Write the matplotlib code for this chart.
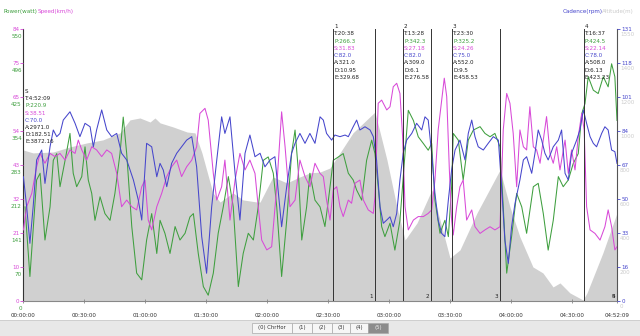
import matplotlib
matplotlib.use('Agg')
import matplotlib.pyplot as plt
import numpy as np
from matplotlib.transforms import blended_transform_factory, ScaledTranslation
from matplotlib.patches import Rectangle

# ---------------- data (time in minutes) ----------------
total_min = 292.15  # 4:52:09

alt_t = [0, 4.9, 14.8, 23.1, 31.5, 39.3, 47.7, 52.6, 57.5, 62.5, 64.9, 67.4, 73.8, 80.7, 84.6, 88.0,
         93.4, 96.9, 103.3, 108.2, 115.1, 116.6, 122.9, 129.8, 136.2, 141.1, 146.1, 151.0, 155.9,
         162.3, 173.1, 179.0, 183.9, 187.9, 193.8, 201.1, 205.1, 210.0, 214.9, 223.3, 234.6, 239.5,
         244.4, 250.8, 255.7, 260.7, 264.1, 269.0, 275.4, 277.4, 285.2, 292.15]
alt_v = [861, 844, 849, 878, 901, 918, 958, 1032, 1043, 1020, 1043, 1015, 992, 963, 958, 844,
         616, 564, 616, 576, 564, 564, 707, 673, 707, 730, 735, 758, 844,
         958, 1077, 804, 536, 348, 445, 633, 462, 245, 291, 502, 747, 536,
         365, 194, 160, 80, 103, 46, 6, 46, 274, 502]

pow_t = [1.0, 3.4, 6.7, 8.4, 10.8, 13.3, 14.9, 16.6, 18.2, 20.7, 23.1, 24.7, 26.4, 28.9, 30.5,
         32.1, 33.8, 35.4, 37.9, 40.3, 42.8, 45.2, 47.7, 49.3, 51.0, 53.5, 55.9, 58.4, 60.8, 63.3,
         65.8, 67.4, 69.8, 72.3, 74.8, 77.2, 79.7, 82.1, 83.8, 86.2, 88.7, 91.1, 93.6, 96.0, 98.5,
         101.0, 103.4, 105.9, 108.3, 110.8, 113.3, 115.7, 118.2, 120.6, 123.1, 124.8, 127.2, 129.7,
         132.1, 133.8, 135.4, 137.1, 139.5, 141.1, 143.6,
         146.1, 148.5, 150.2, 152.6, 155.1, 157.5, 160.0, 162.4, 164.1, 166.6, 169.0, 171.5, 173.1,
         174.7, 176.4, 178.0, 180.5, 182.9, 185.4, 187.9, 189.5, 192.0, 194.4, 196.9, 199.3, 201.0,
         202.6, 205.1, 207.5, 209.2, 210.8, 211.6, 214.1, 216.5, 219.0, 221.5, 224.8, 227.2, 229.7,
         232.1, 234.6, 236.2, 237.9, 240.3, 242.8, 245.3, 247.7, 251.0, 253.4, 255.9, 258.3, 260.8,
         263.3, 265.7, 268.2, 270.6, 273.1, 274.8, 276.4, 278.0, 280.5, 282.9, 285.4, 287.8, 289.5,
         291.1, 292.15]
pow_v = [196, 51, 252, 266, 127, 196, 293, 307, 238, 293, 349, 266, 238, 259, 321,
         252, 224, 168, 217, 182, 168, 224, 307, 383, 307, 155, 58, 44, 127, 182,
         99, 168, 141, 99, 155, 127, 141, 175, 182, 99, 30, 12, 58, 141, 196,
         259, 196, 30, 99, 141, 127, 196, 293, 300, 266, 196, 51, 168,
         307, 356, 272, 127, 196, 266, 210,
         196, 155, 210, 293, 300, 307, 266, 252, 231, 210, 293, 335, 307,
         238, 155, 134, 162, 106, 168, 307, 397, 376, 342, 328, 314, 328,
         210, 141, 168, 134, 238, 349, 335, 252, 335, 356, 363, 349, 342,
         349, 321, 196, 58, 134, 224, 196, 141, 238, 245, 182, 106, 168,
         259, 238, 252, 286, 307, 390, 411, 467, 439, 432, 467, 446, 494,
         467, 376]

spd_t = [0.2, 1.8, 4.3, 6.7, 8.4, 10.8, 13.3, 15.7, 18.2, 20.7, 23.1, 25.6, 27.2, 28.9, 31.3,
         33.8, 36.2, 38.7, 41.2, 43.6, 46.1, 48.5, 51.0, 53.5, 55.9, 58.4, 60.0, 61.6, 63.3, 65.8,
         68.2, 70.7, 73.1, 75.6, 78.0, 80.5, 83.0, 85.4, 87.0, 89.5, 91.1, 93.6, 95.3, 97.7, 99.3,
         101.8, 104.3, 106.7, 109.2, 111.6, 114.1, 115.7, 117.4, 119.9, 122.3, 124.8, 127.2, 128.9,
         131.3, 133.8, 136.2, 138.7, 141.1, 143.6,
         146.1, 147.7, 149.3, 151.0, 152.6, 154.3, 155.9, 157.5, 160.0, 161.6, 163.3, 165.7, 167.4,
         169.8, 172.3, 173.1, 174.7, 176.4, 178.9, 180.5, 182.1, 183.8, 185.4, 186.7, 187.9, 189.5,
         192.0, 194.4, 196.9, 199.3, 201.0, 202.6, 204.2, 205.9, 207.2, 208.4, 209.7, 210.8, 211.6,
         213.3, 214.9, 216.5, 218.2, 220.7, 222.3, 224.8, 227.2, 229.7, 232.1, 234.6, 236.2, 237.9,
         239.5, 241.1, 242.8, 244.4, 246.1, 247.7, 249.3, 251.0, 252.6, 254.3, 255.9, 257.5, 259.2,
         260.8, 262.5, 264.1, 266.6, 268.2, 269.8, 271.5, 273.1, 274.8, 276.0, 277.2, 278.9, 281.3,
         283.8, 286.2, 287.8, 289.5, 291.1, 292.15]
spd_v = [22.4, 29.7, 33.9, 42.3, 46.5, 43.4, 46.5, 45.5, 46.5, 44.4, 47.6, 46.5, 50.7, 47.6, 44.4,
         48.6, 47.6, 45.5, 47.6, 46.5, 40.2, 29.7, 31.8, 29.7, 28.7, 36.0, 38.1, 25.5, 22.4, 29.7,
         33.9, 39.2, 42.3, 44.4, 39.2, 42.3, 44.4, 48.6, 59.1, 60.7, 57.0, 40.2, 31.8, 36.0, 44.4,
         25.5, 38.1, 46.5, 41.3, 44.4, 40.2, 29.7, 19.2, 16.1, 17.1, 36.0, 59.6, 48.6,
         29.7, 31.8, 44.4, 39.2, 36.0, 43.4,
         40.2, 39.2, 31.8, 25.5, 35.0, 36.0, 29.7, 26.6, 31.8, 30.8, 37.1, 38.1, 31.8,
         28.7, 27.6, 32.9, 62.3, 63.3, 60.2, 61.2, 67.5, 68.6, 65.4, 51.8, 29.7, 22.4,
         25.5, 26.6, 26.6, 27.6, 28.7, 38.1, 53.9, 63.3, 70.2, 64.4, 41.3, 25.5, 20.8,
         29.7, 36.0, 38.1, 25.5, 28.7, 23.4, 21.3, 22.4, 23.4, 22.4, 23.4, 53.9, 65.4,
         62.3, 52.8, 36.0, 53.9, 48.6, 47.6, 61.2, 48.6, 47.6, 43.4, 50.7, 58.1, 46.5,
         43.4, 48.6, 41.3, 50.7, 40.2, 47.6, 41.3, 51.8, 59.1, 53.9, 29.7, 22.4, 21.3,
         19.2, 23.4, 28.7, 23.4, 16.1, 17.1]

cad_t = [0.2, 1.8, 3.4, 5.0, 6.7, 9.2, 10.8, 13.3, 14.9, 16.6, 18.2, 19.8, 23.1, 25.6, 28.0,
         30.5, 33.0, 34.6, 36.2, 38.7, 41.2, 43.6, 46.1, 48.5, 51.0, 54.3, 56.7, 58.4, 60.8, 63.3,
         65.8, 67.4, 69.0, 70.7, 73.1, 75.6, 78.0, 80.5, 83.0, 85.4, 87.9, 90.3, 92.8, 95.3, 97.7,
         99.3, 101.8, 104.3, 106.7, 109.2, 111.6, 114.1, 116.6, 119.0, 121.5, 123.9, 125.6, 127.2,
         129.7, 132.1, 133.8, 136.2, 138.7, 141.1, 143.6,
         146.1, 147.7, 149.3, 151.8, 153.4, 155.9, 158.4, 160.0, 162.4, 164.1, 165.7, 168.2, 170.7,
         172.3, 173.9, 175.6, 177.2, 178.9, 180.5, 182.1, 183.8, 185.4, 187.0, 188.7, 191.2, 193.6,
         196.1, 197.7, 199.3, 201.0, 202.6, 204.2, 205.9, 207.5, 209.2, 210.8, 212.5, 214.9, 217.4,
         219.0, 220.7, 222.3, 223.9, 226.4, 228.8, 231.3, 233.8, 235.4, 237.0, 238.7, 240.3, 242.0,
         244.4, 246.1, 247.7, 250.2, 251.8, 253.4, 255.1, 256.7, 258.3, 260.8, 263.3, 264.9, 266.6,
         268.2, 269.8, 272.3, 273.9, 275.6, 277.2, 278.9, 280.5, 282.1, 284.6, 286.2, 287.8, 289.5,
         291.1, 292.15]
cad_v = [61.4, 46.6, 28.5, 46.6, 69.7, 74.6, 58.1, 76.2, 84.5, 81.2, 82.8, 89.4, 93.5, 87.8, 81.2,
         87.8, 86.1, 76.2, 84.5, 94.4, 84.5, 81.2, 82.8, 73.0, 69.7, 59.8, 49.9, 40.0, 77.9, 76.2,
         61.4, 68.0, 64.7, 56.5, 68.0, 73.0, 76.2, 79.5, 81.2, 66.3, 31.8, 13.7, 46.6, 69.7, 91.0,
         82.8, 91.0, 63.1, 40.0, 73.0, 82.0, 71.3, 73.0, 66.3, 69.7, 71.3, 53.2, 36.7,
         56.5, 73.0, 77.9, 82.8, 77.9, 82.8, 77.9,
         91.0, 89.4, 82.8, 79.5, 82.0, 81.2, 82.0, 81.2, 86.1, 89.4, 84.5, 86.1, 84.5,
         81.2, 69.7, 46.6, 38.4, 40.0, 41.6, 36.7, 43.3, 59.8, 73.0, 79.5, 82.8, 87.8,
         84.5, 91.0, 89.4, 73.0, 53.2, 40.0, 33.4, 31.8, 49.9, 64.7, 74.6, 79.5, 69.7,
         82.8, 89.4, 81.2, 76.2, 74.6, 77.9, 81.2, 79.5, 56.5, 30.1, 18.6, 36.7, 48.3,
         59.8, 69.7, 71.3, 63.1, 73.0, 84.5, 79.5, 73.0, 69.7, 76.2, 79.5, 84.5, 63.1,
         59.8, 73.0, 79.5, 84.5, 94.4, 87.8, 81.2, 77.9, 76.2, 82.8, 86.1, 84.5, 74.6,
         73.8, 68.0]

# axis ranges and tick labels
pow_max, spd_max, cad_max, alt_max = 566.4, 85.7, 134.4, 1550
speed_labels = ['0', '10', '21', '32', '43', '54', '65', '75', '84']
power_labels = ['0', '70', '141', '212', '283', '354', '425', '496', '550']
cad_labels = ['0', '16', '33', '50', '67', '84', '101', '118', '131']
alt_labels = ['0', '200', '400', '600', '800', '1000', '1200', '1400', '1550']
x_ticks = [0, 30, 60, 90, 120, 150, 180, 210, 240, 270, 292.15]
x_labels = ['00:00:00', '00:30:00', '01:00:00', '01:30:00', '02:00:00', '02:30:00',
            '03:00:00', '03:30:00', '04:00:00', '04:30:00', '04:52:09']

# laps
lap_names = ['1', '2', '3', '4']
lap_start = [152.5, 186.9, 211.0, 275.9]
lap_end = [173.1, 200.7, 234.6, 292.15]
lap_T = ['20:38', '13:28', '23:30', '16:37']
lap_P = ['266.3', '342.3', '325.2', '424.5']
lap_S = ['31.83', '27.18', '24.26', '22.14']
lap_C = ['82.0', '82.0', '75.0', '78.0']
lap_A = ['321.0', '309.0', '552.0', '508.0']
lap_D = ['10.95', '6.1', '9.5', '6.13']
lap_E = ['329.68', '276.58', '458.53', '423.23']
summary = ['S', 'T:4:52:09', 'P:220.9', 'S:38.51', 'C:70.0', 'A:2971.0', 'D:182.51', 'E:3872.16']

tabs = ['(0) ChrHor', '(1)', '(2)', '(3)', '(4)', '(5)']

# ---------------- styling ----------------
GREEN = '#3f9f3f'
MAG = '#d84ad8'
BLUE = '#4646cc'
ALT = '#d0d0d0'
ALTTXT = '#cccccc'
TXT = '#222222'
FS = 4.1
plt.rcParams['font.family'] = ['DejaVu Sans']

W_PX, H_PX = 640, 336
fig = plt.figure(figsize=(6.4, 3.36), dpi=100)
fig.patch.set_facecolor('white')

ax_left, ax_right, ax_top, ax_bot = 23, 617, 29, 301
ax = fig.add_axes([ax_left / W_PX, 1 - ax_bot / H_PX, (ax_right - ax_left) / W_PX,
                   (ax_bot - ax_top) / H_PX])
ax.set_xlim(0, total_min)
ax.set_ylim(0, alt_max)
ax.fill_between(alt_t, alt_v, 0, color=ALT, lw=0, zorder=1)

axp = ax.twinx()
axs = ax.twinx()
axc = ax.twinx()
axp.set_ylim(0, pow_max)
axs.set_ylim(0, spd_max)
axc.set_ylim(0, cad_max)
for a in (axp, axs, axc):
    a.patch.set_visible(False)
    for sp in a.spines.values():
        sp.set_visible(False)
    a.set_xlim(0, total_min)

axp.plot(pow_t, pow_v, color=GREEN, lw=0.75)
axs.plot(spd_t, spd_v, color=MAG, lw=0.75)
axc.plot(cad_t, cad_v, color=BLUE, lw=0.75)

# spines
ax.spines['top'].set_visible(False)
ax.spines['left'].set_color('#333333')
ax.spines['right'].set_color('#555555')
ax.spines['bottom'].set_color('#888888')
for sp in ax.spines.values():
    sp.set_linewidth(0.8)

# x ticks
ax.set_xticks(x_ticks)
ax.set_xticklabels(x_labels)
ax.tick_params(axis='x', direction='inout', length=3, width=0.6, color='#888888',
               labelsize=FS, labelcolor='#333333', pad=7)
ax.set_yticks([])

# left axis: speed ticks (magenta) + power labels (green) below
axp.set_yticks([])
axs.yaxis.set_ticks_position('left')
axs.set_yticks(np.linspace(0, spd_max, 9))
axs.set_yticklabels(speed_labels)
axs.tick_params(axis='y', colors=MAG, labelsize=FS, length=2, width=0.6, pad=0.5)
tr_p = blended_transform_factory(axp.transAxes, axp.transData) + \
    ScaledTranslation(-0.012, -0.07, fig.dpi_scale_trans)
for v, lab in zip(np.linspace(0, pow_max, 9), power_labels):
    axp.text(0, v, lab, transform=tr_p, ha='right', va='center', color=GREEN, fontsize=FS)

# right axis: cadence ticks (blue) + altitude labels (light gray) below
axc.yaxis.set_ticks_position('right')
axc.set_yticks(np.linspace(0, cad_max, 9))
axc.set_yticklabels(cad_labels)
axc.tick_params(axis='y', colors=BLUE, labelsize=FS, length=2, width=0.6, pad=1)
tr_a = blended_transform_factory(ax.transAxes, ax.transData) + \
    ScaledTranslation(0.03, -0.06, fig.dpi_scale_trans)
for v, lab in zip(np.linspace(0, alt_max, 9), alt_labels):
    ax.text(1, v, lab, transform=tr_a, ha='left', va='center', color=ALTTXT, fontsize=FS)

# lap lines
for s, e in zip(lap_start, lap_end):
    for x in (s, e):
        if x < total_min - 0.1:
            axc.axvline(x, ymin=0, ymax=1.0, color='#333333', lw=0.7, zorder=5)

# lap annotations
def ax_y(ypx):
    return (ax_bot - ypx) / (ax_bot - ax_top)

tr_lap = blended_transform_factory(axc.transData, axc.transAxes) + \
    ScaledTranslation(0.01, 0, fig.dpi_scale_trans)
line_cols = [TXT, TXT, GREEN, MAG, BLUE, TXT, TXT, TXT]
y0, dy = 26.5, 7.3
for i in range(len(lap_names)):
    lines = [lap_names[i], 'T:' + lap_T[i], 'P:' + lap_P[i], 'S:' + lap_S[i],
             'C:' + lap_C[i], 'A:' + lap_A[i], 'D:' + lap_D[i], 'E:' + lap_E[i]]
    for k, (t, c) in enumerate(zip(lines, line_cols)):
        axc.text(lap_start[i], ax_y(y0 + k * dy), t, transform=tr_lap, ha='left', va='center',
                 color=c, fontsize=FS, zorder=6, clip_on=False)

# summary at left
tr_sum = blended_transform_factory(axc.transAxes, axc.transAxes) + \
    ScaledTranslation(0.02, 0, fig.dpi_scale_trans)
y0s = 91.5
for k, (t, c) in enumerate(zip(summary, line_cols)):
    axc.text(0, ax_y(y0s + k * 7.2), t, transform=tr_sum, ha='left', va='center',
             color=c, fontsize=FS, zorder=6)

# lap numbers at bottom
tr_end = blended_transform_factory(axc.transData, axc.transAxes) + \
    ScaledTranslation(-0.015, 0, fig.dpi_scale_trans)
for name, e in zip(lap_names, lap_end):
    axc.text(e, ax_y(296.5), name, transform=tr_end, ha='right', va='center',
             color=TXT, fontsize=FS, zorder=6)
axc.text(lap_end[-1], ax_y(296.5), '5', transform=tr_end, ha='right', va='center',
         color=TXT, fontsize=FS, zorder=6)

# top legends
def ftxt(xpx, ypx, s, c, ha='left'):
    fig.text(xpx / W_PX, 1 - ypx / H_PX, s, color=c, fontsize=FS, ha=ha, va='center')

ftxt(4, 12, 'Power(watt)', GREEN)
ftxt(38, 12, 'Speed(km/h)', MAG)
ftxt(563, 12, 'Cadence(rpm)', BLUE)
ftxt(602, 12, 'Altitude(m)', ALTTXT)

# bottom bar with tabs
fig.patches.append(Rectangle((0, 0), 1, 15 / H_PX, transform=fig.transFigure,
                             facecolor='#e8e8e8', edgecolor='none', zorder=0))
fig.patches.append(Rectangle((0, 15 / H_PX), 1, 0.6 / H_PX, transform=fig.transFigure,
                             facecolor='#cfcfcf', edgecolor='none', zorder=0))
tab_edges = [252, 292, 312, 332, 350, 368, 388]
for i, lab in enumerate(tabs):
    x0, x1 = tab_edges[i], tab_edges[i + 1]
    sel = (i == len(tabs) - 1)
    fig.patches.append(Rectangle((x0 / W_PX, 1 - 332.5 / H_PX), (x1 - x0) / W_PX, 10 / H_PX,
                                 transform=fig.transFigure,
                                 facecolor='#8c8c8c' if sel else '#f6f6f6',
                                 edgecolor='#aaaaaa', lw=0.5, zorder=1))
    fig.text((x0 + x1) / 2 / W_PX, 1 - 327.5 / H_PX, lab, fontsize=3.8,
             color='#eeeeee' if sel else '#333333', ha='center', va='center', zorder=2)

fig.savefig('out.png', dpi=100, facecolor='white')
